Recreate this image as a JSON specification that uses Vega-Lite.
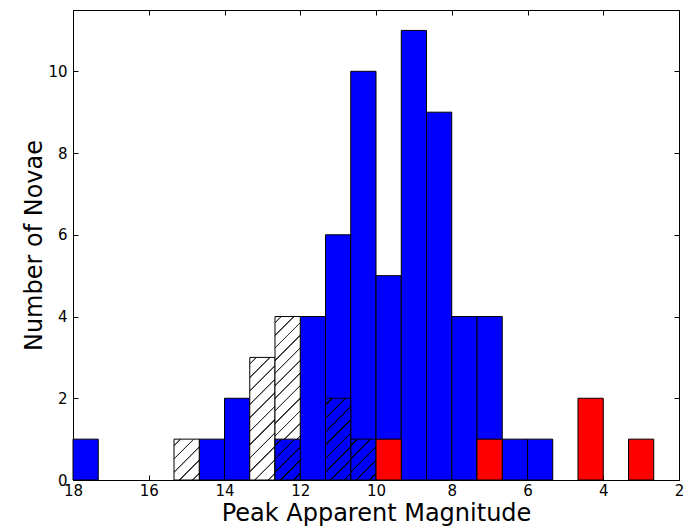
{
 "$schema": "https://vega.github.io/schema/vega-lite/v6.json",
 "width": 606,
 "height": 470,
 "autosize": {"type": "none"},
 "padding": {"left": 73, "top": 10, "right": 9, "bottom": 47},
 "background": "white",
 "config": {
  "font": "DejaVu Sans",
  "view": {"stroke": "black", "strokeWidth": 1},
  "axis": {"grid": false, "domainColor": "black", "tickColor": "black", "labelColor": "black", "titleColor": "black", "labelFont": "DejaVu Sans", "titleFont": "DejaVu Sans", "labelFontSize": 15, "labelFontWeight": "normal", "titleFontSize": 24, "titleFontWeight": "normal", "tickSize": -5, "labelFlush": false, "labelOverlap": false}
 },
 "data": {"values": [
  {"series": "all", "hi": 18, "lo": 17.3333, "count": 1},
  {"series": "all", "hi": 14.6667, "lo": 14, "count": 1},
  {"series": "all", "hi": 14, "lo": 13.3333, "count": 2},
  {"series": "all", "hi": 12, "lo": 11.3333, "count": 4},
  {"series": "all", "hi": 11.3333, "lo": 10.6667, "count": 6},
  {"series": "all", "hi": 10.6667, "lo": 10, "count": 10},
  {"series": "all", "hi": 10, "lo": 9.3333, "count": 5},
  {"series": "all", "hi": 9.3333, "lo": 8.6667, "count": 11},
  {"series": "all", "hi": 8.6667, "lo": 8, "count": 9},
  {"series": "all", "hi": 8, "lo": 7.3333, "count": 4},
  {"series": "all", "hi": 7.3333, "lo": 6.6667, "count": 4},
  {"series": "all", "hi": 6.6667, "lo": 6, "count": 1},
  {"series": "all", "hi": 6, "lo": 5.3333, "count": 1},
  {"series": "white", "hi": 15.3333, "lo": 14.6667, "count": 1},
  {"series": "white", "hi": 13.3333, "lo": 12.6667, "count": 3},
  {"series": "white", "hi": 12.6667, "lo": 12, "count": 4},
  {"series": "bluehatch", "hi": 12.6667, "lo": 12, "count": 1},
  {"series": "bluehatch", "hi": 11.3333, "lo": 10.6667, "count": 2},
  {"series": "bluehatch", "hi": 10.6667, "lo": 10, "count": 1},
  {"series": "red", "hi": 10, "lo": 9.3333, "count": 1},
  {"series": "red", "hi": 7.3333, "lo": 6.6667, "count": 1},
  {"series": "red", "hi": 4.6667, "lo": 4, "count": 2},
  {"series": "red", "hi": 3.3333, "lo": 2.6667, "count": 1}
 ]},
 "encoding": {
  "x": {"field": "hi", "type": "quantitative", "scale": {"domain": [2, 18], "reverse": true, "nice": false, "zero": false}, "axis": null},
  "x2": {"field": "lo"},
  "y": {"field": "count", "type": "quantitative", "scale": {"domain": [0, 11.5], "nice": false, "zero": true, "padding": 0}, "axis": null},
  "y2": {"datum": 0}
 },
 "layer": [
  {"transform": [{"filter": "datum.series == 'all'"}],
   "mark": {"type": "bar", "fill": "#0000ff", "stroke": "black", "strokeWidth": 1},
   "encoding": {
    "x": {"field": "hi", "type": "quantitative", "scale": {"domain": [2, 18], "reverse": true, "nice": false, "zero": false},
          "axis": {"orient": "bottom", "values": [18, 16, 14, 12, 10, 8, 6, 4, 2], "format": "d", "title": "Peak Apparent Magnitude", "labelPadding": 8, "titlePadding": 3}},
    "y": {"field": "count", "type": "quantitative", "scale": {"domain": [0, 11.5], "nice": false, "zero": true, "padding": 0},
          "axis": {"orient": "left", "values": [0, 2, 4, 6, 8, 10], "format": "d", "title": "Number of Novae", "labelPadding": 11, "titlePadding": 1}}
   }},
  {"transform": [{"filter": "datum.series == 'white' && datum.count == 1"}],
   "mark": {"type": "bar", "stroke": "black", "strokeWidth": 1,
    "fill": {"gradient": "linear", "x1": 0, "y1": 0, "x2": 0.7234, "y2": 1.1709, "stops": [
     {"offset": 0.084, "color": "#ffffff"}, {"offset": 0.092, "color": "#333333"}, {"offset": 0.108, "color": "#333333"}, {"offset": 0.116, "color": "#ffffff"},
     {"offset": 0.284, "color": "#ffffff"}, {"offset": 0.292, "color": "#333333"}, {"offset": 0.308, "color": "#333333"}, {"offset": 0.316, "color": "#ffffff"},
     {"offset": 0.484, "color": "#ffffff"}, {"offset": 0.492, "color": "#333333"}, {"offset": 0.508, "color": "#333333"}, {"offset": 0.516, "color": "#ffffff"},
     {"offset": 0.684, "color": "#ffffff"}, {"offset": 0.692, "color": "#333333"}, {"offset": 0.708, "color": "#333333"}, {"offset": 0.716, "color": "#ffffff"},
     {"offset": 0.884, "color": "#ffffff"}, {"offset": 0.892, "color": "#333333"}, {"offset": 0.908, "color": "#333333"}, {"offset": 0.916, "color": "#ffffff"}
    ]}}},
  {"transform": [{"filter": "datum.series == 'white' && datum.count == 3"}],
   "mark": {"type": "bar", "stroke": "black", "strokeWidth": 1,
    "fill": {"gradient": "linear", "x1": 0, "y1": 0, "x2": 0.2382, "y2": 1.1569, "stops": [
     {"offset": 0.0382, "color": "#ffffff"}, {"offset": 0.0418, "color": "#333333"}, {"offset": 0.0491, "color": "#333333"}, {"offset": 0.0527, "color": "#ffffff"},
     {"offset": 0.1291, "color": "#ffffff"}, {"offset": 0.1327, "color": "#333333"}, {"offset": 0.1400, "color": "#333333"}, {"offset": 0.1436, "color": "#ffffff"},
     {"offset": 0.2200, "color": "#ffffff"}, {"offset": 0.2236, "color": "#333333"}, {"offset": 0.2309, "color": "#333333"}, {"offset": 0.2345, "color": "#ffffff"},
     {"offset": 0.3109, "color": "#ffffff"}, {"offset": 0.3145, "color": "#333333"}, {"offset": 0.3218, "color": "#333333"}, {"offset": 0.3255, "color": "#ffffff"},
     {"offset": 0.4018, "color": "#ffffff"}, {"offset": 0.4055, "color": "#333333"}, {"offset": 0.4127, "color": "#333333"}, {"offset": 0.4164, "color": "#ffffff"},
     {"offset": 0.4927, "color": "#ffffff"}, {"offset": 0.4964, "color": "#333333"}, {"offset": 0.5036, "color": "#333333"}, {"offset": 0.5073, "color": "#ffffff"},
     {"offset": 0.5836, "color": "#ffffff"}, {"offset": 0.5873, "color": "#333333"}, {"offset": 0.5945, "color": "#333333"}, {"offset": 0.5982, "color": "#ffffff"},
     {"offset": 0.6745, "color": "#ffffff"}, {"offset": 0.6782, "color": "#333333"}, {"offset": 0.6855, "color": "#333333"}, {"offset": 0.6891, "color": "#ffffff"},
     {"offset": 0.7655, "color": "#ffffff"}, {"offset": 0.7691, "color": "#333333"}, {"offset": 0.7764, "color": "#333333"}, {"offset": 0.7800, "color": "#ffffff"},
     {"offset": 0.8564, "color": "#ffffff"}, {"offset": 0.8600, "color": "#333333"}, {"offset": 0.8673, "color": "#333333"}, {"offset": 0.8709, "color": "#ffffff"},
     {"offset": 0.9473, "color": "#ffffff"}, {"offset": 0.9509, "color": "#333333"}, {"offset": 0.9582, "color": "#333333"}, {"offset": 0.9618, "color": "#ffffff"}
    ]}}},
  {"transform": [{"filter": "datum.series == 'white' && datum.count == 4"}],
   "mark": {"type": "bar", "stroke": "black", "strokeWidth": 1,
    "fill": {"gradient": "linear", "x1": 0, "y1": 0, "x2": 0.1742, "y2": 1.1276, "stops": [
     {"offset": 0.0280, "color": "#ffffff"}, {"offset": 0.0307, "color": "#333333"}, {"offset": 0.0360, "color": "#333333"}, {"offset": 0.0387, "color": "#ffffff"},
     {"offset": 0.0947, "color": "#ffffff"}, {"offset": 0.0973, "color": "#333333"}, {"offset": 0.1027, "color": "#333333"}, {"offset": 0.1053, "color": "#ffffff"},
     {"offset": 0.1613, "color": "#ffffff"}, {"offset": 0.1640, "color": "#333333"}, {"offset": 0.1693, "color": "#333333"}, {"offset": 0.1720, "color": "#ffffff"},
     {"offset": 0.2280, "color": "#ffffff"}, {"offset": 0.2307, "color": "#333333"}, {"offset": 0.2360, "color": "#333333"}, {"offset": 0.2387, "color": "#ffffff"},
     {"offset": 0.2947, "color": "#ffffff"}, {"offset": 0.2973, "color": "#333333"}, {"offset": 0.3027, "color": "#333333"}, {"offset": 0.3053, "color": "#ffffff"},
     {"offset": 0.3613, "color": "#ffffff"}, {"offset": 0.3640, "color": "#333333"}, {"offset": 0.3693, "color": "#333333"}, {"offset": 0.3720, "color": "#ffffff"},
     {"offset": 0.4280, "color": "#ffffff"}, {"offset": 0.4307, "color": "#333333"}, {"offset": 0.4360, "color": "#333333"}, {"offset": 0.4387, "color": "#ffffff"},
     {"offset": 0.4947, "color": "#ffffff"}, {"offset": 0.4973, "color": "#333333"}, {"offset": 0.5027, "color": "#333333"}, {"offset": 0.5053, "color": "#ffffff"},
     {"offset": 0.5613, "color": "#ffffff"}, {"offset": 0.5640, "color": "#333333"}, {"offset": 0.5693, "color": "#333333"}, {"offset": 0.5720, "color": "#ffffff"},
     {"offset": 0.6280, "color": "#ffffff"}, {"offset": 0.6307, "color": "#333333"}, {"offset": 0.6360, "color": "#333333"}, {"offset": 0.6387, "color": "#ffffff"},
     {"offset": 0.6947, "color": "#ffffff"}, {"offset": 0.6973, "color": "#333333"}, {"offset": 0.7027, "color": "#333333"}, {"offset": 0.7053, "color": "#ffffff"},
     {"offset": 0.7613, "color": "#ffffff"}, {"offset": 0.7640, "color": "#333333"}, {"offset": 0.7693, "color": "#333333"}, {"offset": 0.7720, "color": "#ffffff"},
     {"offset": 0.8280, "color": "#ffffff"}, {"offset": 0.8307, "color": "#333333"}, {"offset": 0.8360, "color": "#333333"}, {"offset": 0.8387, "color": "#ffffff"},
     {"offset": 0.8947, "color": "#ffffff"}, {"offset": 0.8973, "color": "#333333"}, {"offset": 0.9027, "color": "#333333"}, {"offset": 0.9053, "color": "#ffffff"},
     {"offset": 0.9613, "color": "#ffffff"}, {"offset": 0.9640, "color": "#333333"}, {"offset": 0.9693, "color": "#333333"}, {"offset": 0.9720, "color": "#ffffff"}
    ]}}},
  {"transform": [{"filter": "datum.series == 'bluehatch' && datum.count == 1"}],
   "mark": {"type": "bar", "stroke": "black", "strokeWidth": 1,
    "fill": {"gradient": "linear", "x1": 0, "y1": 0, "x2": 0.7234, "y2": 1.1709, "stops": [
     {"offset": 0.084, "color": "#0000ff"}, {"offset": 0.092, "color": "#000000"}, {"offset": 0.108, "color": "#000000"}, {"offset": 0.116, "color": "#0000ff"},
     {"offset": 0.284, "color": "#0000ff"}, {"offset": 0.292, "color": "#000000"}, {"offset": 0.308, "color": "#000000"}, {"offset": 0.316, "color": "#0000ff"},
     {"offset": 0.484, "color": "#0000ff"}, {"offset": 0.492, "color": "#000000"}, {"offset": 0.508, "color": "#000000"}, {"offset": 0.516, "color": "#0000ff"},
     {"offset": 0.684, "color": "#0000ff"}, {"offset": 0.692, "color": "#000000"}, {"offset": 0.708, "color": "#000000"}, {"offset": 0.716, "color": "#0000ff"},
     {"offset": 0.884, "color": "#0000ff"}, {"offset": 0.892, "color": "#000000"}, {"offset": 0.908, "color": "#000000"}, {"offset": 0.916, "color": "#0000ff"}
    ]}}},
  {"transform": [{"filter": "datum.series == 'bluehatch' && datum.count == 2"}],
   "mark": {"type": "bar", "stroke": "black", "strokeWidth": 1,
    "fill": {"gradient": "linear", "x1": 0, "y1": 0, "x2": 0.3691, "y2": 1.1949, "stops": [
     {"offset": 0.0525, "color": "#0000ff"}, {"offset": 0.0575, "color": "#000000"}, {"offset": 0.0675, "color": "#000000"}, {"offset": 0.0725, "color": "#0000ff"},
     {"offset": 0.1775, "color": "#0000ff"}, {"offset": 0.1825, "color": "#000000"}, {"offset": 0.1925, "color": "#000000"}, {"offset": 0.1975, "color": "#0000ff"},
     {"offset": 0.3025, "color": "#0000ff"}, {"offset": 0.3075, "color": "#000000"}, {"offset": 0.3175, "color": "#000000"}, {"offset": 0.3225, "color": "#0000ff"},
     {"offset": 0.4275, "color": "#0000ff"}, {"offset": 0.4325, "color": "#000000"}, {"offset": 0.4425, "color": "#000000"}, {"offset": 0.4475, "color": "#0000ff"},
     {"offset": 0.5525, "color": "#0000ff"}, {"offset": 0.5575, "color": "#000000"}, {"offset": 0.5675, "color": "#000000"}, {"offset": 0.5725, "color": "#0000ff"},
     {"offset": 0.6775, "color": "#0000ff"}, {"offset": 0.6825, "color": "#000000"}, {"offset": 0.6925, "color": "#000000"}, {"offset": 0.6975, "color": "#0000ff"},
     {"offset": 0.8025, "color": "#0000ff"}, {"offset": 0.8075, "color": "#000000"}, {"offset": 0.8175, "color": "#000000"}, {"offset": 0.8225, "color": "#0000ff"},
     {"offset": 0.9275, "color": "#0000ff"}, {"offset": 0.9325, "color": "#000000"}, {"offset": 0.9425, "color": "#000000"}, {"offset": 0.9475, "color": "#0000ff"}
    ]}}},
  {"transform": [{"filter": "datum.series == 'red'"}],
   "mark": {"type": "bar", "fill": "#ff0000", "stroke": "black", "strokeWidth": 1},
   "encoding": {
    "x": {"field": "hi", "type": "quantitative", "scale": {"domain": [2, 18], "reverse": true, "nice": false, "zero": false},
          "axis": {"orient": "top", "values": [18, 16, 14, 12, 10, 8, 6, 4, 2], "labels": false, "title": null, "domain": false}},
    "y": {"field": "count", "type": "quantitative", "scale": {"domain": [0, 11.5], "nice": false, "zero": true, "padding": 0},
          "axis": {"orient": "right", "values": [0, 2, 4, 6, 8, 10], "labels": false, "title": null, "domain": false}}
   }}
 ]
}
